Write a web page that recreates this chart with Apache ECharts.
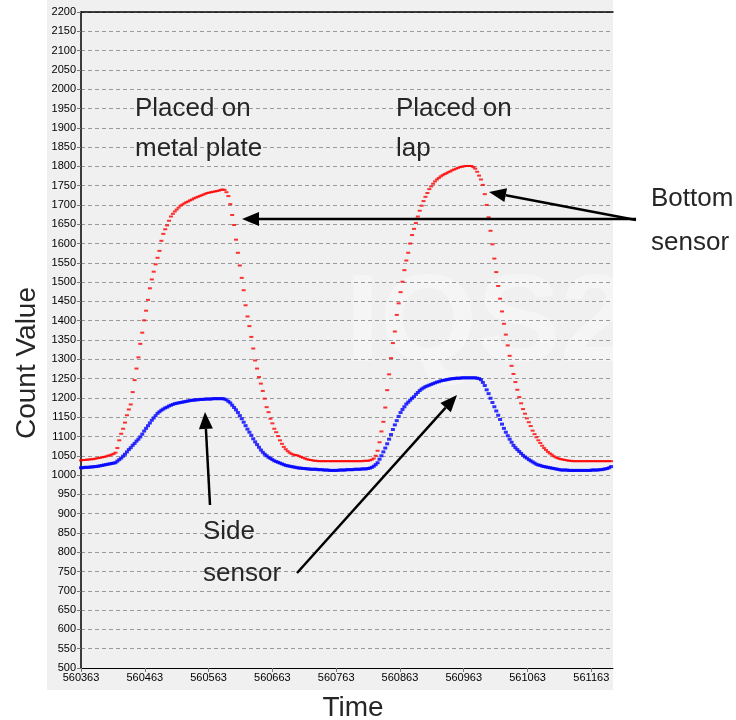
<!DOCTYPE html>
<html>
<head>
<meta charset="utf-8">
<script src="https://cdn.jsdelivr.net/npm/echarts@6/dist/echarts.min.js"></script>
<style>
  html, body { margin: 0; padding: 0; background: #fff; }
  #chart { width: 736px; height: 720px; }
</style>
</head>
<body>
<div id="chart"></div>
<script>
// sample clock: one reading every 3 ticks, starting at 560363
const timeStart = 560363
const timeStep = 3

// bottom sensor (red) counts, one per sample
const bottomCounts = [
  1038, 1039, 1039, 1040, 1040, 1041, 1041, 1042, 1043, 1044,
  1045, 1046, 1047, 1048, 1050, 1051, 1053, 1055, 1058, 1070,
  1090, 1107, 1120, 1136, 1155, 1170, 1183, 1215, 1246, 1276,
  1305, 1340, 1369, 1401, 1426, 1454, 1484, 1507, 1527, 1546,
  1563, 1581, 1607, 1625, 1637, 1647, 1659, 1670, 1677, 1683,
  1688, 1693, 1698, 1701, 1704, 1707, 1709, 1712, 1714, 1717,
  1719, 1721, 1723, 1725, 1727, 1729, 1731, 1732, 1733, 1734,
  1735, 1736, 1737, 1739, 1740, 1739, 1733, 1723, 1702, 1674,
  1648, 1610, 1576, 1543, 1511, 1479, 1440, 1411, 1386, 1358,
  1328, 1297, 1276, 1254, 1237, 1218, 1198, 1176, 1163, 1146,
  1134, 1120, 1111, 1101, 1090, 1081, 1073, 1067, 1062, 1058,
  1055, 1053, 1052, 1051, 1049, 1047, 1045, 1043, 1041, 1040,
  1039, 1038, 1037, 1037, 1036, 1036, 1036, 1036, 1036, 1036,
  1036, 1036, 1036, 1036, 1036, 1036, 1036, 1036, 1036, 1036,
  1036, 1036, 1036, 1036, 1036, 1036, 1036, 1036, 1037, 1037,
  1037, 1038, 1040, 1043, 1050, 1063, 1085, 1113, 1138, 1175,
  1220, 1261, 1303, 1342, 1372, 1415, 1445, 1474, 1501, 1531,
  1556, 1576, 1600, 1622, 1638, 1653, 1670, 1685, 1698, 1710,
  1721, 1731, 1741, 1748, 1755, 1761, 1766, 1770, 1774, 1777,
  1780, 1782, 1785, 1787, 1790, 1792, 1794, 1796, 1798, 1799,
  1800, 1801, 1801, 1801, 1801, 1798, 1794, 1786, 1776, 1766,
  1752, 1728, 1700, 1668, 1633, 1598, 1561, 1526, 1490, 1457,
  1424, 1392, 1364, 1336, 1309, 1283, 1262, 1241, 1221, 1202,
  1186, 1171, 1159, 1147, 1137, 1127, 1115, 1106, 1098, 1090,
  1083, 1076, 1070, 1065, 1060, 1056, 1053, 1049, 1046, 1044,
  1042, 1041, 1040, 1039, 1038, 1037, 1037, 1036, 1036, 1036,
  1036, 1036, 1036, 1036, 1036, 1036, 1036, 1036, 1036, 1036,
  1036, 1036, 1036, 1036, 1036, 1036, 1036, 1036
]

// side sensor (blue) counts
const sideCounts = [
  1019, 1019, 1020, 1020, 1020, 1021, 1021, 1022, 1022, 1023,
  1024, 1025, 1026, 1027, 1028, 1029, 1030, 1031, 1032, 1036,
  1040, 1044, 1049, 1054, 1060, 1066, 1071, 1077, 1082, 1088,
  1093, 1099, 1106, 1114, 1121, 1128, 1135, 1142, 1148, 1154,
  1160, 1164, 1168, 1171, 1174, 1176, 1179, 1181, 1183, 1185,
  1186, 1187, 1188, 1189, 1190, 1191, 1192, 1193, 1194, 1194,
  1195, 1195, 1196, 1196, 1196, 1197, 1197, 1197, 1197, 1198,
  1198, 1198, 1198, 1198, 1198, 1197, 1195, 1191, 1187, 1181,
  1175, 1169, 1162, 1154, 1146, 1137, 1128, 1119, 1111, 1103,
  1094, 1086, 1079, 1072, 1065, 1059, 1054, 1050, 1046, 1043,
  1040, 1037, 1035, 1033, 1031, 1029, 1027, 1025, 1024, 1023,
  1022, 1021, 1020, 1019, 1018, 1018, 1017, 1017, 1016, 1016,
  1015, 1015, 1015, 1015, 1014, 1014, 1014, 1013, 1013, 1013,
  1012, 1012, 1012, 1012, 1012, 1013, 1013, 1013, 1013, 1014,
  1014, 1014, 1014, 1015, 1015, 1015, 1015, 1016, 1016, 1016,
  1017, 1018, 1020, 1023, 1027, 1032, 1041, 1050, 1060, 1070,
  1081, 1093, 1105, 1118, 1130, 1141, 1152, 1162, 1170, 1177,
  1184, 1189, 1194, 1199, 1203, 1209, 1214, 1219, 1223, 1226,
  1229, 1231, 1233, 1235, 1237, 1239, 1241, 1242, 1244, 1245,
  1246, 1247, 1248, 1249, 1250, 1250, 1251, 1251, 1251, 1252,
  1252, 1252, 1252, 1252, 1252, 1252, 1252, 1251, 1250, 1247,
  1240, 1232, 1221, 1211, 1199, 1188, 1177, 1166, 1155, 1144,
  1132, 1121, 1111, 1102, 1093, 1085, 1077, 1071, 1066, 1061,
  1056, 1051, 1047, 1044, 1040, 1037, 1034, 1031, 1028, 1026,
  1025, 1023, 1022, 1021, 1020, 1019, 1018, 1017, 1016, 1015,
  1014, 1013, 1013, 1013, 1013, 1012, 1012, 1012, 1012, 1012,
  1012, 1012, 1012, 1012, 1012, 1012, 1012, 1013, 1013, 1013,
  1013, 1014, 1014, 1015, 1016, 1017, 1019, 1022
]

const xMin = 560363
const xMax = 561197
const yMin = 500
const yMax = 2200

const bottomData = bottomCounts.map((v, i) => [timeStart + i * timeStep, v])
const sideData = sideCounts.map((v, i) => [timeStart + i * timeStep, v])

const textFont = '26px "Liberation Sans", Arial, sans-serif'
const textColor = '#262626'

const label = (text, x, y) => ({
  type: 'text',
  z: 10,
  style: { text, x, y, font: textFont, fill: textColor, align: 'left', verticalAlign: 'middle' }
})

// straight arrow with a filled head at (x2, y2)
const arrow = (x1, y1, x2, y2) => {
  const ang = Math.atan2(y2 - y1, x2 - x1)
  const len = 17, half = 7
  const bx = x2 - len * Math.cos(ang), by = y2 - len * Math.sin(ang)
  const px = -Math.sin(ang) * half, py = Math.cos(ang) * half
  return [
    {
      type: 'line', z: 10,
      shape: { x1, y1, x2: bx, y2: by },
      style: { stroke: '#000', lineWidth: 2.5 }
    },
    {
      type: 'polygon', z: 10,
      shape: { points: [[x2, y2], [bx + px, by + py], [bx - px, by - py]] },
      style: { fill: '#000' }
    }
  ]
}

const chart = echarts.init(document.getElementById('chart'))

const option = {
  animation: false,
  backgroundColor: '#fff',
  grid: { left: 81, top: 12, right: 123, bottom: 52 },
  xAxis: [
    {
      type: 'value',
      min: xMin,
      max: xMax,
      interval: 100,
      axisLine: { lineStyle: { color: '#000', width: 1 } },
      axisTick: { show: true, length: 4, lineStyle: { color: '#777' } },
      axisLabel: {
        margin: 4,
        color: '#000',
        fontSize: 11,
        fontFamily: '"Liberation Sans", Arial, sans-serif',
        formatter: v => String(v),
        showMaxLabel: false
      },
      splitLine: { show: false }
    },
    {
      type: 'value',
      position: 'top',
      min: xMin,
      max: xMax,
      axisLine: { show: true, lineStyle: { color: '#000', width: 1.5 } },
      axisTick: { show: false },
      axisLabel: { show: false },
      splitLine: { show: false }
    }
  ],
  yAxis: {
    type: 'value',
    min: yMin,
    max: yMax,
    interval: 50,
    axisLine: { show: true, lineStyle: { color: '#000', width: 1.5 } },
    axisTick: { show: true, length: 4, lineStyle: { color: '#777' } },
    axisLabel: {
      margin: 5,
      color: '#000',
      fontSize: 11,
      fontFamily: '"Liberation Sans", Arial, sans-serif',
      formatter: v => String(v)
    },
    splitLine: { show: true, lineStyle: { color: '#9a9a9a', type: [4, 3], width: 1 } }
  },
  series: [
    {
      name: 'Side sensor',
      type: 'scatter',
      data: sideData,
      symbol: 'rect',
      symbolSize: [4, 3],
      itemStyle: { color: '#0000ff' }
    },
    {
      name: 'Bottom sensor',
      type: 'scatter',
      data: bottomData,
      symbol: 'rect',
      symbolSize: [4, 2],
      itemStyle: { color: '#ff0000' }
    }
  ],
  graphic: [
    { type: 'rect', z: -10, silent: true, shape: { x: 47, y: 0, width: 566, height: 690 }, style: { fill: '#f0f0f0' } },
    {
      type: 'text', z: -9, silent: true,
      style: { text: 'IQS2', x: 345, y: 327, font: 'bold 125px "Liberation Sans", Arial, sans-serif', fill: '#f5f5f5', verticalAlign: 'middle' }
    },
    { type: 'rect', z: -8, silent: true, shape: { x: 613, y: 0, width: 123, height: 720 }, style: { fill: '#fff' } },
    label('Placed on', 135, 109),
    label('metal plate', 135, 149),
    label('Placed on', 396, 109),
    label('lap', 396, 149),
    label('Bottom', 651, 199),
    label('sensor', 651, 243),
    label('Side', 203, 532),
    label('sensor', 203, 574),
    ...arrow(636, 219, 242, 219),
    ...arrow(636, 220, 489, 192),
    ...arrow(210, 505, 205, 412),
    ...arrow(297, 573, 457, 395),
    {
      type: 'text', z: 10, x: 27, y: 363, rotation: Math.PI / 2,
      style: { text: 'Count Value', x: 0, y: 0, font: '28px "Liberation Sans", Arial, sans-serif', fill: textColor, align: 'center', verticalAlign: 'middle' }
    },
    {
      type: 'text', z: 10,
      style: { text: 'Time', x: 353, y: 708, font: '28px "Liberation Sans", Arial, sans-serif', fill: textColor, align: 'center', verticalAlign: 'middle' }
    }
  ]
}

chart.setOption(option)
</script>
</body>
</html>
